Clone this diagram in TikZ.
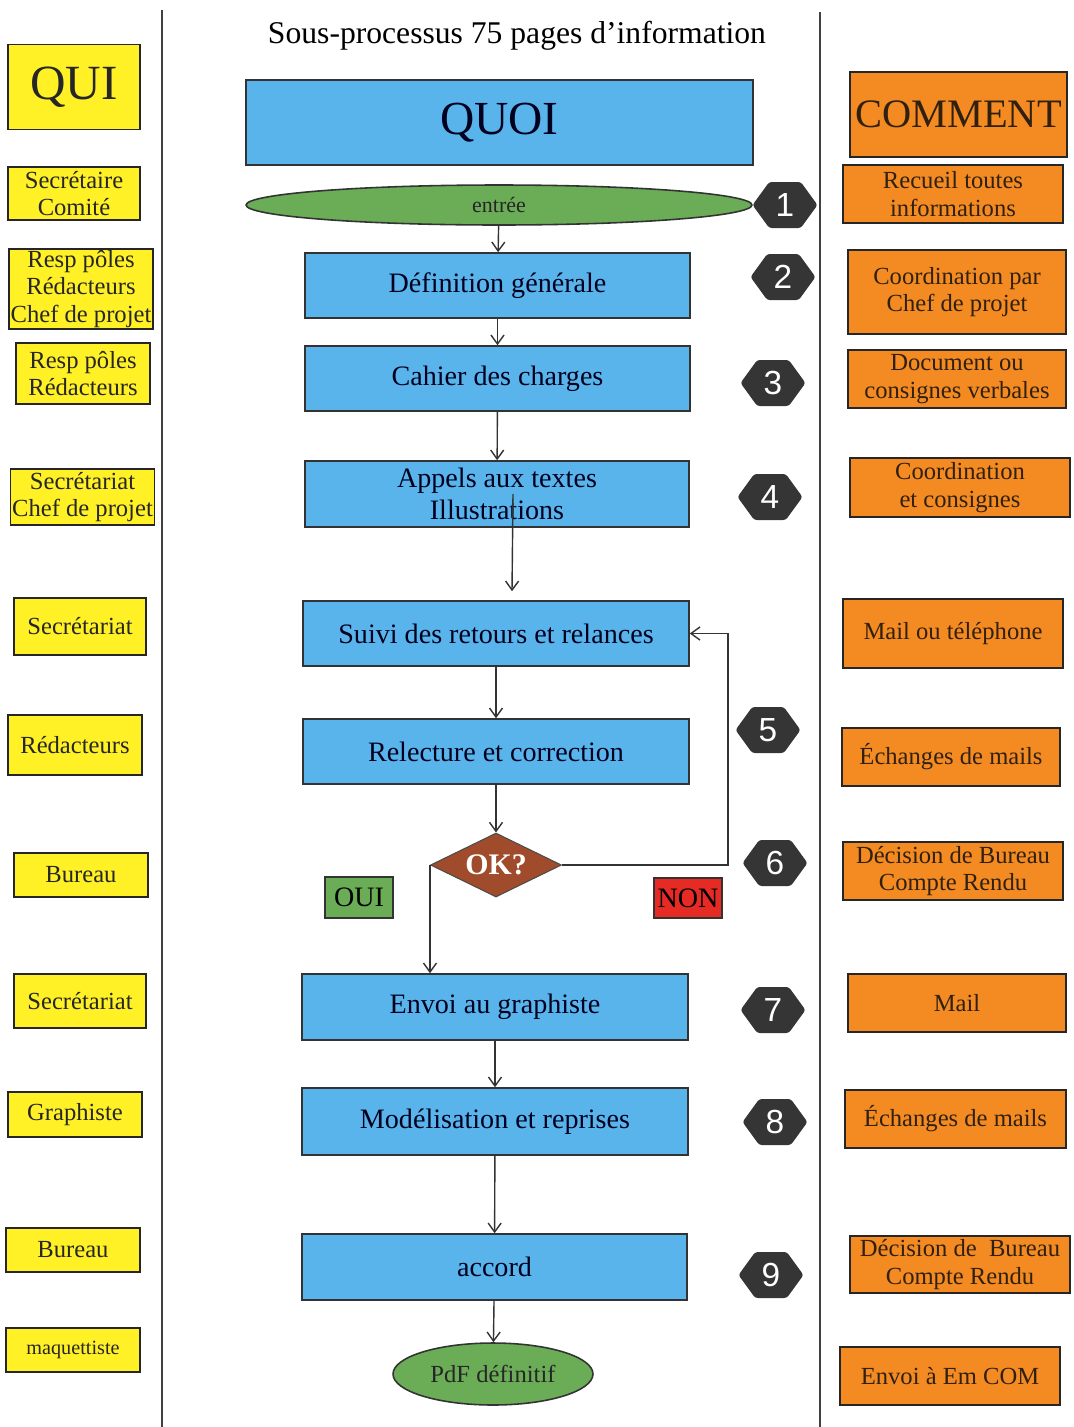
\documentclass[tikz,border=0pt]{standalone}
\usepackage{fontspec}
\setmainfont{Liberation Serif}
\newfontfamily\numfont{Liberation Sans}
\usepackage{xcolor}
\usepackage{tikz}
\usetikzlibrary{arrows.meta,positioning,shapes.geometric,shapes.symbols}
\definecolor{quijaune}{HTML}{FFF126}
\definecolor{quoibleu}{HTML}{58B4EA}
\definecolor{commentorange}{HTML}{F48B22}
\definecolor{vert}{HTML}{6BAD57}
\definecolor{brun}{HTML}{A04B2B}
\definecolor{rouge}{HTML}{E52B24}
\definecolor{gris}{HTML}{353535}

\begin{document}
\begin{tikzpicture}[x=0.02cm, y=-0.02cm, every node/.style={font=\fontsize{14}{15.5}\selectfont}, qui/.style={draw=black!85, line width=0.9pt, fill=quijaune, align=center, inner sep=1pt, text=black!85}, quoi/.style={draw=black!80, line width=0.9pt, fill=quoibleu, align=center, inner sep=1pt, font=\fontsize{16}{18.5}\selectfont, text=blue!12!black}, comment/.style={draw=black!85, line width=0.9pt, fill=commentorange, align=center, inner sep=1pt, text=brown!25!black}, num/.style={signal, signal to=west and east, signal pointer angle=108, fill=gris, text=white, font=\numfont\fontsize{19}{19}\selectfont, minimum width=1.3cm, minimum height=0.92cm, inner sep=0pt, rounded corners=1.5pt}]
\useasboundingbox (0,0) rectangle (1073,1427);
\draw[line width=1pt, black!75] (162,10) -- (162,1427);
\draw[line width=1pt, black!75] (820,12) -- (820,1427);
\node[font=\fontsize{18}{20}\selectfont] (titre) at (517,36) {Sous-processus 75 pages d’information};
% qui
\node[qui, minimum width=2.64cm, minimum height=1.7cm, font=\fontsize{28}{30}\selectfont] (qui) at (74,87) {QUI};
\node[qui, minimum width=2.64cm, minimum height=1.06cm] (q1) at (74,193.5) {Secrétaire\\Comité};
\node[qui, minimum width=2.76cm, minimum height=1.56cm] (q2) at (81,289) {Resp pôles\\Rédacteurs\\Chef de projet};
\node[qui, minimum width=2.68cm, minimum height=1.22cm] (q3) at (83,373.5) {Resp pôles\\Rédacteurs};
\node[qui, minimum width=2.7cm, minimum height=1.12cm] (q4) at (82.5,497) {Secrétariat\\Chef de projet};
\node[qui, minimum width=2.64cm, minimum height=1.14cm] (q5) at (80,626.5) {Secrétariat};
\node[qui, minimum width=2.68cm, minimum height=1.2cm] (q6) at (75,745) {Rédacteurs};
\node[qui, minimum width=2.68cm, minimum height=0.88cm] (q7) at (81,875) {Bureau};
\node[qui, minimum width=2.64cm, minimum height=1.08cm] (q8) at (80,1001) {Secrétariat};
\node[qui, minimum width=2.68cm, minimum height=0.9cm] (q9) at (75,1114.5) {Graphiste};
\node[qui, minimum width=2.68cm, minimum height=0.88cm] (q10) at (73,1250) {Bureau};
\node[qui, minimum width=2.68cm, minimum height=0.88cm, font=\fontsize{11.5}{13}\selectfont] (q11) at (73,1350) {maquettiste};
% quoi
\node[quoi, minimum width=10.14cm, minimum height=1.7cm, font=\fontsize{27}{30}\selectfont] (quoi) at (499.5,122.5) {QUOI};
\node[ellipse, draw=black!80, line width=0.9pt, fill=vert, minimum width=10.12cm, minimum height=0.8cm, inner sep=0pt, font=\fontsize{12.5}{14}\selectfont, text=black!85] (entree) at (499,205) {entrée};
\node[quoi, minimum width=7.7cm, minimum height=1.3cm] (defi) at (497.5,285.5) {Définition générale};
\node[quoi, minimum width=7.7cm, minimum height=1.3cm] (cahier) at (497.5,378.5) {Cahier des charges};
\node[quoi, minimum width=7.68cm, minimum height=1.32cm] (appels) at (497,494) {Appels aux textes\\Illustrations};
\node[quoi, minimum width=7.72cm, minimum height=1.3cm] (suivi) at (496,633.5) {Suivi des retours et relances};
\node[quoi, minimum width=7.72cm, minimum height=1.3cm] (relect) at (496,751.5) {Relecture et correction};
\node[diamond, aspect=2.05, draw=black!70, line width=0.6pt, fill=brun, text=white, minimum width=2.62cm, minimum height=1.28cm, inner sep=0pt, font=\bfseries\fontsize{17}{17}\selectfont] (ok) at (496,865) {OK?};
\node[draw=black!80, line width=0.6pt, fill=vert, minimum width=1.36cm, minimum height=0.82cm, inner sep=0pt, font=\fontsize{16}{16}\selectfont] (oui) at (359,897.5) {OUI};
\node[draw=black!80, line width=0.6pt, fill=rouge, minimum width=1.36cm, minimum height=0.8cm, inner sep=0pt, font=\fontsize{16}{16}\selectfont] (non) at (688,898) {NON};
\node[quoi, minimum width=7.72cm, minimum height=1.32cm] (envoi) at (495,1007) {Envoi au graphiste};
\node[quoi, minimum width=7.72cm, minimum height=1.34cm] (model) at (495,1121.5) {Modélisation et reprises};
\node[quoi, minimum width=7.7cm, minimum height=1.32cm] (accord) at (494.5,1267) {accord};
\node[ellipse, draw=black!80, line width=0.9pt, fill=vert, minimum width=4cm, minimum height=1.24cm, inner sep=0pt, text=black!85] (pdf) at (493,1374) {PdF définitif};
% numeros
\node[num] (n1) at (785,205) {1};
\node[num] (n2) at (783,277) {2};
\node[num] (n3) at (773,383) {3};
\node[num] (n4) at (770,497) {4};
\node[num] (n5) at (768,730) {5};
\node[num] (n6) at (775,863) {6};
\node[num] (n7) at (773,1010) {7};
\node[num] (n8) at (775,1122) {8};
\node[num] (n9) at (771,1275) {9};
% comment
\node[comment, minimum width=4.34cm, minimum height=1.7cm, font=\fontsize{23}{25}\selectfont] (comment) at (958.5,114.5) {COMMENT};
\node[comment, minimum width=4.4cm, minimum height=1.16cm] (c1) at (953,194) {Recueil toutes\\informations};
\node[comment, minimum width=4.36cm, minimum height=1.68cm] (c2) at (957,292) {Coordination par\\Chef de projet};
\node[comment, minimum width=4.36cm, minimum height=1.16cm] (c3) at (957,379) {Document ou\\consignes verbales};
\node[comment, minimum width=4.4cm, minimum height=1.18cm] (c4) at (960,487.5) {Coordination\\et consignes};
\node[comment, minimum width=4.4cm, minimum height=1.38cm] (c5) at (953,633.5) {Mail ou téléphone};
\node[comment, minimum width=4.36cm, minimum height=1.16cm] (c6) at (951,757) {Échanges de mails};
\node[comment, minimum width=4.4cm, minimum height=1.16cm] (c7) at (953,871) {Décision de Bureau\\Compte Rendu};
\node[comment, minimum width=4.36cm, minimum height=1.16cm] (c8) at (957,1003) {Mail};
\node[comment, minimum width=4.42cm, minimum height=1.16cm] (c9) at (955.5,1119) {Échanges de mails};
\node[comment, minimum width=4.4cm, minimum height=1.14cm] (c10) at (960,1264.5) {Décision de\ \ Bureau\\Compte Rendu};
\node[comment, minimum width=4.4cm, minimum height=1.16cm] (c11) at (950,1376) {Envoi à Em COM};
% fleches
\draw[line width=0.8pt, black!80, -{Straight Barb[length=1.8mm,width=2.6mm]}] (entree) -- (defi);
\draw[line width=0.8pt, black!80, -{Straight Barb[length=1.8mm,width=2.6mm]}] (defi) -- (cahier);
\draw[line width=0.8pt, black!80, -{Straight Barb[length=1.8mm,width=2.6mm]}] (cahier) -- (appels);
\draw[line width=0.8pt, black!80, -{Straight Barb[length=1.8mm,width=2.6mm]}] ([xshift=0.32cm]appels.center) -- ([xshift=0.32cm, yshift=0.18cm]suivi.north);
\draw[line width=0.8pt, black!80, -{Straight Barb[length=1.8mm,width=2.6mm]}] (suivi) -- (relect);
\draw[line width=0.8pt, black!80, -{Straight Barb[length=1.8mm,width=2.6mm]}] (relect) -- (ok);
\draw[line width=0.8pt, black!80, -{Straight Barb[length=1.8mm,width=2.6mm]}] (ok.west) -- (ok.west |- envoi.north);
\draw[line width=0.8pt, black!80, -{Straight Barb[length=1.8mm,width=2.6mm]}] (ok.east) -- ++(166,0) |- (suivi.east);
\draw[line width=0.8pt, black!80, -{Straight Barb[length=1.8mm,width=2.6mm]}] (envoi) -- (model);
\draw[line width=0.8pt, black!80, -{Straight Barb[length=1.8mm,width=2.6mm]}] (model) -- (accord);
\draw[line width=0.8pt, black!80, -{Straight Barb[length=1.8mm,width=2.6mm]}] (accord) -- (pdf);
\end{tikzpicture}
\end{document}
